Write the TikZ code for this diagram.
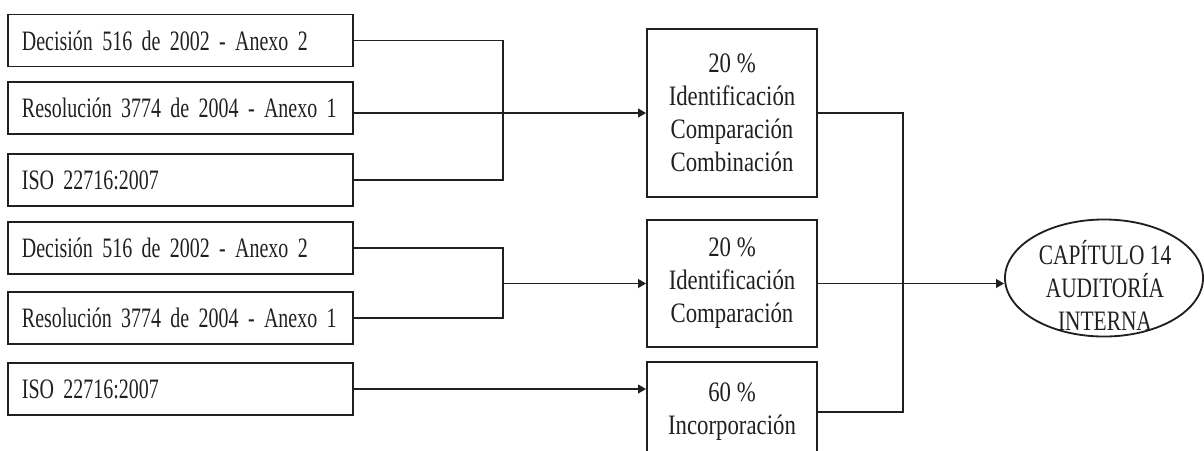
\documentclass[tikz,border=0pt]{standalone}
\usepackage{fontspec}
\setmainfont[FakeStretch=0.81]{Liberation Serif}
\newfontfamily\srcfont[FakeStretch=0.71]{Liberation Serif}
\newfontfamily\capfont[FakeStretch=0.76]{Liberation Serif}
\usepackage{tikz}
\usetikzlibrary{arrows.meta,shapes.geometric,calc}
\definecolor{ink}{HTML}{231F20}

\begin{document}
\begin{tikzpicture}[x=0.025cm,y=-0.025cm,
  font=\fontsize{20}{23.5}\selectfont,
  srcbox/.style={draw=ink,line width=1.3pt,text=ink,minimum height=1.3cm,
    text width=7.925cm,align=left,inner xsep=0.35cm,inner ysep=0pt,
    font=\srcfont\fontsize{20}{23.5}\selectfont,
    execute at begin node=\hbox\bgroup,execute at end node=\egroup},
  stagebox/.style={draw=ink,line width=1.3pt,text=ink,minimum width=4.25cm,
    align=center},
  link/.style={draw=ink,line width=1.05pt},
  tip/.style={link,-{Triangle[length=0.2cm,width=0.22cm]}}]
\useasboundingbox (0,0) rectangle (1204,450);

\node[srcbox] (dec1) at (180.5,40.5) {Decisión 516 de 2002 - Anexo 2};
\node[srcbox] (res1) at (180.5,108) {Resolución 3774 de 2004 - Anexo 1};
\node[srcbox] (iso1) at (180.5,180) {ISO 22716:2007};
\node[srcbox] (dec2) at (180.5,248) {Decisión 516 de 2002 - Anexo 2};
\node[srcbox] (res2) at (180.5,318) {Resolución 3774 de 2004 - Anexo 1};
\node[srcbox] (iso2) at (180.5,389) {ISO 22716:2007};

\node[stagebox,minimum height=4.2cm] (A) at (732,113)
  {20 \%\\Identificación\\Comparación\\Combinación};
\node[stagebox,minimum height=3.175cm] (B) at (732,283.5)
  {20 \%\\Identificación\\Comparación};
\node[stagebox,minimum height=2.5cm] (C) at (732,412)
  {60 \%\\Incorporación};

\node[ellipse,draw=ink,line width=1.3pt,minimum width=4.95cm,
  minimum height=2.925cm,inner sep=0pt] (cap) at (1104,278) {};
\node[text=ink,align=center,font=\capfont\fontsize{20}{23.5}\selectfont]
  (captxt) at (1105,285) {CAPÍTULO 14\\AUDITORÍA\\INTERNA};

\coordinate (j1) at (503,113);
\coordinate (j2) at (503,283.5);
\coordinate (j3) at (903,283.5);

\draw[link] (dec1.east) -| (j1) |- (iso1.east);
\draw[tip] (res1.east |- A.west) -- (A.west);
\draw[link] (dec2.east) -| (j2) |- (res2.east);
\draw[tip] (j2) -- (B.west);
\draw[tip] (iso2.east) -- (iso2.east -| C.west);
\draw[link] (A.east) -| (j3) |- (C.east);
\draw[tip] (B.east) -- (cap.west |- B.east);
\end{tikzpicture}
\end{document}
